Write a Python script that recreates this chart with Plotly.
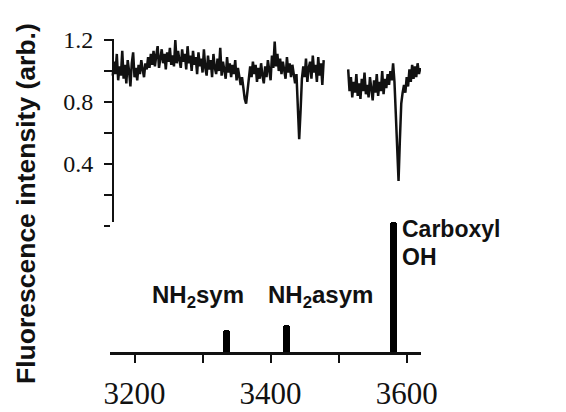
import numpy as np
import plotly.graph_objects as go

# Spectrum segment 1: 3168..3478 cm-1, step 2
spec1_x = np.arange(3168, 3479, 2)
spec1_y = [
    0.97, 1.06, 0.98, 1.11, 0.94, 1.03, 0.97, 1.13, 0.95, 1.04,
    0.92, 1.07, 1.00, 0.90, 1.05, 1.12, 0.96, 1.02, 0.94, 1.04,
    0.98, 1.07, 1.01, 0.96, 1.05, 1.01, 1.09, 1.02, 1.11, 1.04,
    1.13, 1.03, 1.10, 1.16, 1.02, 1.09, 1.14, 1.05, 1.11, 1.01,
    1.12, 1.06, 1.15, 1.04, 1.10, 1.03, 1.20, 1.05, 1.13, 1.07,
    1.02, 1.14, 1.06, 1.11, 1.01, 1.16, 1.05, 1.10, 1.00, 1.13,
    1.04, 1.09, 0.98, 1.12, 1.03, 1.08, 0.99, 1.14, 1.02, 0.97,
    1.10, 1.01, 1.07, 0.96, 1.11, 1.02, 0.98, 1.08, 1.00, 1.15,
    0.97, 1.06, 1.01, 0.95, 1.09, 0.99, 1.05, 0.96, 1.04, 0.98,
    1.07, 0.94, 1.02, 0.97, 0.91, 0.96, 0.88, 0.82, 0.79, 0.86,
    0.95, 1.03, 0.96, 1.06, 0.98, 1.04, 0.93, 1.02, 0.95, 1.05,
    0.97, 0.92, 1.03, 0.96, 1.07, 0.99, 0.94, 1.10, 1.02, 1.19,
    1.03, 1.11, 1.00, 1.08, 0.98, 1.06, 1.01, 0.95, 1.09, 0.99,
    1.05, 0.96, 1.04, 0.98, 0.92, 0.98, 0.78, 0.56, 0.74, 0.95,
    1.03, 0.96, 1.08, 0.93, 1.02, 1.06, 0.95, 1.10, 0.99, 1.04,
    0.93, 1.09, 0.97, 1.05, 0.91, 1.07,
]

# Spectrum segment 2: 3514..3620 cm-1, step 2
spec2_x = np.arange(3514, 3621, 2)
spec2_y = [
    1.01, 0.87, 0.96, 0.83, 0.93, 0.86, 0.98, 0.84, 0.92, 0.82,
    0.95, 0.87, 0.99, 0.85, 0.91, 0.83, 0.96, 0.88, 0.81, 0.94,
    0.86, 0.98, 0.84, 0.93, 0.87, 1.00, 0.85, 0.95, 0.89, 0.98,
    0.91, 1.00, 0.94, 1.05, 0.93, 0.72, 0.45, 0.29, 0.56, 0.79,
    0.86, 0.91, 0.86, 0.96, 0.90, 1.01, 0.93, 1.04, 0.95, 1.03,
    0.96, 1.05, 0.98, 1.02,
]

# Calculated mode positions and relative intensities
peak_x = [3335, 3423, 3581]
peak_h = [0.17, 0.21, 1.0]

y_tickvals = [0.4, 0.8, 1.2]
y_ticktext = ["0.4", "0.8", "1.2"]
y_minorvals = [0, 0.2, 0.6, 1.0]
x_tickvals = [3200, 3400, 3600]
x_ticktext = ["3200", "3400", "3600"]
x_minorvals = [3300, 3500]

W, H = 566, 412
def px(x):
    return x / W
def py(y):
    return 1 - y / H

spec_x = list(spec1_x) + [None] + list(spec2_x)
spec_y = list(spec1_y) + [None] + list(spec2_y)

fig = go.Figure()
fig.add_trace(go.Scatter(x=spec_x, y=spec_y, mode="lines",
                         line=dict(color="#111", width=2.5),
                         xaxis="x", yaxis="y", connectgaps=False,
                         showlegend=False))
fig.add_trace(go.Bar(x=peak_x, y=peak_h, width=10,
                     marker=dict(color="#000", line=dict(width=0), cornerradius=3),
                     xaxis="x", yaxis="y2", showlegend=False))

serif = "Liberation Serif"
sans = "Liberation Sans"

fig.update_layout(
    width=W, height=H,
    margin=dict(l=0, r=0, t=0, b=0, autoexpand=False),
    paper_bgcolor="white", plot_bgcolor="white",
    bargap=0,
    xaxis=dict(domain=[px(110), px(421)], range=[3164, 3621],
               anchor="y2", showgrid=False, zeroline=False, automargin=False,
               showline=True, linecolor="#111", linewidth=3,
               ticks="outside", ticklen=8, tickwidth=2, tickcolor="#111",
               tickmode="array", tickvals=x_tickvals, ticktext=x_ticktext,
               minor=dict(tickmode="array", tickvals=x_minorvals, ticks="outside",
                          ticklen=8, tickwidth=2, tickcolor="#111", showgrid=False),
               tickfont=dict(family=serif, size=31, color="#111"),
               ticklabelstandoff=4),
    yaxis=dict(domain=[py(226), py(39)], range=[0, 1.2 * (226 - 39) / (226 - 40)],
               anchor="free", position=px(113), automargin=False,
               showgrid=False, zeroline=False,
               showline=True, linecolor="#111", linewidth=2,
               ticks="outside", ticklen=8, tickwidth=2, tickcolor="#111",
               tickmode="array", tickvals=y_tickvals, ticktext=y_ticktext,
               minor=dict(tickmode="array", tickvals=y_minorvals, ticks="outside",
                          ticklen=8, tickwidth=2, tickcolor="#111", showgrid=False),
               tickfont=dict(family=serif, size=24, color="#111"),
               ticklabelstandoff=6),
    yaxis2=dict(domain=[py(352), py(222)], range=[0, 1.0],
                anchor="x", visible=False),
    annotations=[
        dict(text="<b>Fluorescence intensity (arb.)</b>", textangle=-90,
             x=px(26), y=py(204), xref="paper", yref="paper",
             xanchor="center", yanchor="middle",
             showarrow=False, font=dict(family=sans, size=26.5, color="#111")),
        dict(text="<b>NH<sub>2</sub>sym</b>", x=px(150), y=py(296),
             xref="paper", yref="paper", xanchor="left", yanchor="middle",
             showarrow=False, font=dict(family=sans, size=24, color="#111")),
        dict(text="<b>NH<sub>2</sub>asym</b>", x=px(266), y=py(296),
             xref="paper", yref="paper", xanchor="left", yanchor="middle",
             showarrow=False, font=dict(family=sans, size=24, color="#111")),
        dict(text="<b>Carboxyl</b>", x=px(400), y=py(229),
             xref="paper", yref="paper", xanchor="left", yanchor="middle",
             showarrow=False, font=dict(family=sans, size=23, color="#111")),
        dict(text="<b>OH</b>", x=px(400), y=py(257),
             xref="paper", yref="paper", xanchor="left", yanchor="middle",
             showarrow=False, font=dict(family=sans, size=23, color="#111")),
    ],
)

fig.write_html("out.html")
